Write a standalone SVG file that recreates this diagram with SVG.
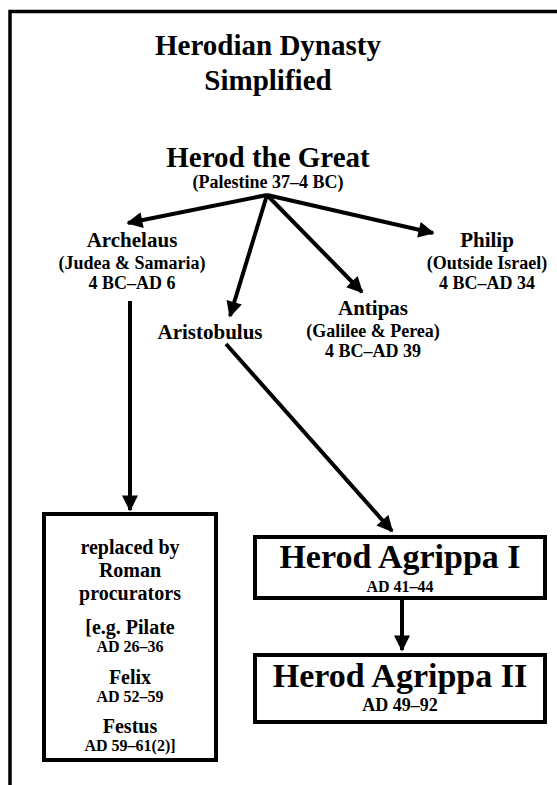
<svg xmlns="http://www.w3.org/2000/svg" width="557" height="785" viewBox="0 0 557 785">
<defs>
<marker id="ah" viewBox="0 0 10 10" refX="9" refY="5" markerWidth="4.4" markerHeight="4" markerUnits="strokeWidth" orient="auto">
<path d="M0,0 L10,5 L0,10 z" fill="#000"/>
</marker>
<style>
text{font-family:"Liberation Serif","Times New Roman",serif;font-weight:bold;fill:#000;text-anchor:middle}
.t{font-size:29px}
.n{font-size:21px}
.s{font-size:18px}
.p{font-size:20px}
.d{font-size:16px}
.big{font-size:29px}
.ag{font-size:34px}
.box{fill:#fff;stroke:#000;stroke-width:4}
.ca{stroke:#000;stroke-width:4;fill:none;marker-end:url(#ah)}
</style>
</defs>
<rect width="557" height="785" fill="#fff"/>
<path d="M10,785 V11.5 H557" fill="none" stroke="#000" stroke-width="3.5"/>
<g id="title">
<text class="t" x="268" y="55">Herodian Dynasty</text>
<text class="t" x="268" y="90">Simplified</text>
</g>
<g id="herod">
<text class="big" x="268" y="167">Herod the Great</text>
<text class="s" x="268" y="188">(Palestine 37–4 BC)</text>
</g>
<g id="archelaus">
<text class="n" x="132" y="247">Archelaus</text>
<text class="s" x="132" y="269">(Judea &amp; Samaria)</text>
<text class="s" x="132" y="289">4 BC–AD 6</text>
</g>
<g id="philip">
<text class="n" x="487" y="247">Philip</text>
<text class="s" x="487" y="269">(Outside Israel)</text>
<text class="s" x="487" y="289">4 BC–AD 34</text>
</g>
<g id="antipas">
<text class="n" x="373" y="315">Antipas</text>
<text class="s" x="373" y="337">(Galilee &amp; Perea)</text>
<text class="s" x="373" y="357">4 BC–AD 39</text>
</g>
<g id="aristobulus">
<text class="n" x="210" y="339">Aristobulus</text>
</g>
<g id="procurators">
<rect class="box" x="44" y="514" width="172" height="246"/>
<text class="p" x="130" y="554">replaced by</text>
<text class="p" x="130" y="577">Roman</text>
<text class="p" x="130" y="600">procurators</text>
<text class="p" x="130" y="634">[e.g. Pilate</text>
<text class="d" x="130" y="652">AD 26–36</text>
<text class="p" x="130" y="684">Felix</text>
<text class="d" x="130" y="702">AD 52–59</text>
<text class="p" x="130" y="733">Festus</text>
<text class="d" x="130" y="751">AD 59–61(2)]</text>
</g>
<g id="agrippa1">
<rect class="box" x="255" y="537" width="290" height="61"/>
<text class="ag" x="400" y="568">Herod Agrippa I</text>
<text class="d" x="400" y="592">AD 41–44</text>
</g>
<g id="agrippa2">
<rect class="box" x="255" y="655" width="290" height="67"/>
<text class="ag" x="400" y="687">Herod Agrippa II</text>
<text class="s" x="400" y="711">AD 49–92</text>
</g>
<g id="connectors">
<line class="ca" x1="267" y1="195" x2="128" y2="223"/>
<line class="ca" x1="267" y1="195" x2="230" y2="316"/>
<line class="ca" x1="267" y1="195" x2="362" y2="292"/>
<line class="ca" x1="267" y1="195" x2="433" y2="233"/>
<line class="ca" x1="130" y1="301" x2="130" y2="510"/>
<line class="ca" x1="226" y1="344" x2="392" y2="531"/>
<line class="ca" x1="402" y1="599" x2="402" y2="650"/>
</g>
</svg>
